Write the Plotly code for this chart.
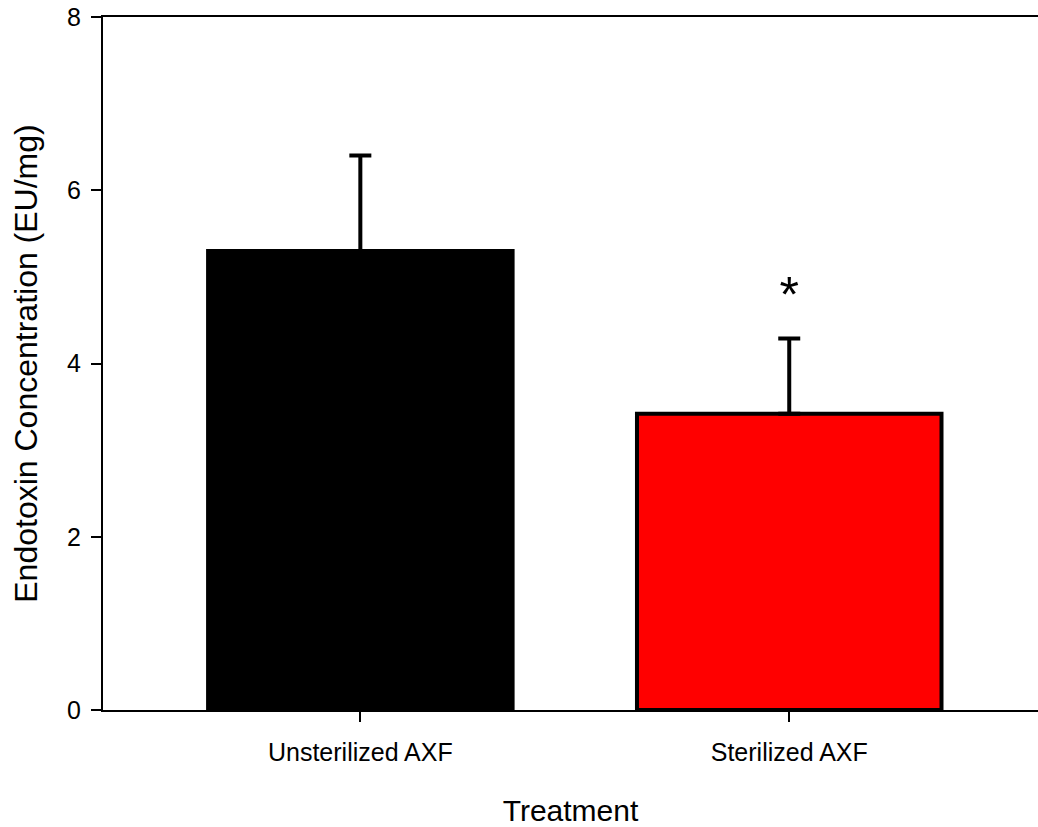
import plotly.graph_objects as go

categories = ["Unsterilized AXF", "Sterilized AXF"]
means = [5.3, 3.42]
errors_upper = [1.1, 0.87]
bar_colors = ["#000000", "#ff0000"]
sig_labels = ["", "*"]
sig_y = [None, 4.74]

x_pos = list(range(len(categories)))

fig = go.Figure()
fig.add_trace(go.Bar(
    x=x_pos, y=means, width=0.71,
    marker=dict(color=bar_colors, line=dict(color="black", width=4)),
    error_y=dict(type="data", array=errors_upper, arrayminus=[0, 0], symmetric=False,
                 thickness=4, width=11, color="black"),
    showlegend=False,
))
fig.add_trace(go.Scatter(
    x=[x for x, s in zip(x_pos, sig_labels) if s],
    y=[y for y, s in zip(sig_y, sig_labels) if s],
    text=[s for s in sig_labels if s],
    mode="text", textfont=dict(size=50, color="black", family="Liberation Sans"),
    showlegend=False, cliponaxis=False,
))

fig.update_layout(
    width=1038, height=827,
    margin=dict(l=103, r=0, t=17, b=117),
    plot_bgcolor="white", paper_bgcolor="white",
    font=dict(family="Liberation Sans, Arial, sans-serif", color="black"),
    xaxis=dict(
        range=[-0.6, 1.58], tickmode="array", tickvals=x_pos, ticktext=categories,
        showline=True, linecolor="black", linewidth=2, mirror=True,
        ticks="outside", ticklen=10, tickwidth=2, tickcolor="black",
        tickfont=dict(size=25), ticklabelstandoff=9, showgrid=False, zeroline=False,
        automargin=False, ticklabeloverflow="allow",
        title=dict(text="Treatment", font=dict(size=30), standoff=44),
    ),
    yaxis=dict(
        range=[0, 8], tickvals=[0, 2, 4, 6, 8],
        showline=True, linecolor="black", linewidth=2,
        ticks="outside", ticklen=10, tickwidth=2, tickcolor="black",
        tickfont=dict(size=25), ticklabelstandoff=5, showgrid=False, zeroline=False,
        automargin=False, ticklabeloverflow="allow",
        title=dict(text="Endotoxin Concentration (EU/mg)", font=dict(size=32), standoff=20),
    ),
)

# remove the default 8px page margin so the figure fills the window exactly
fig.write_html(
    "out.html",
    config={"displayModeBar": False},
    post_script="document.body.style.margin='0';document.body.style.overflow='hidden';",
)
